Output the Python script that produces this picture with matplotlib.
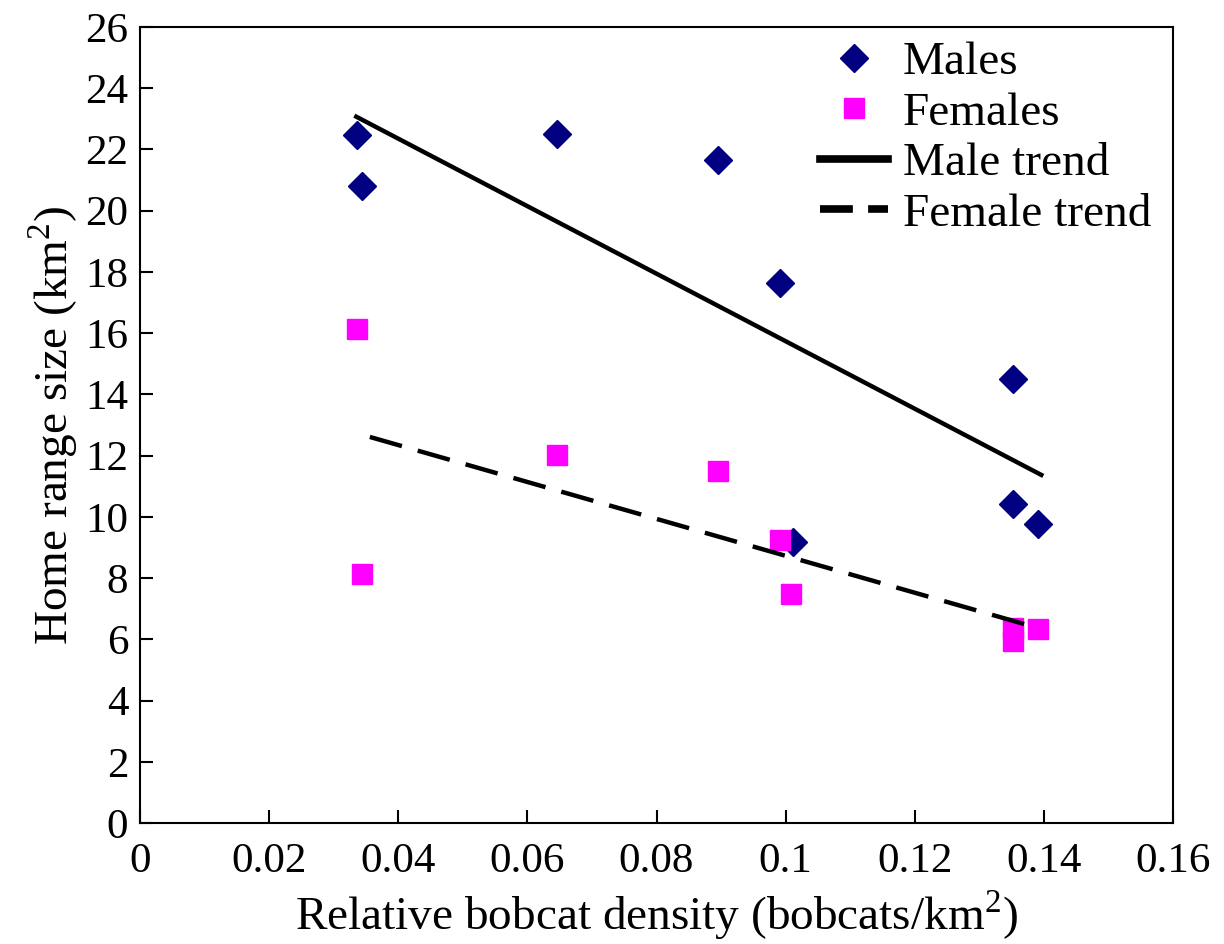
import numpy as np
import matplotlib.pyplot as plt

# Bobcat home range vs relative density
male_x = [0.0336, 0.0344, 0.0646, 0.0895, 0.0991, 0.1011, 0.1352, 0.1352, 0.1391]
male_y = [22.48, 20.82, 22.52, 21.67, 17.65, 9.18, 14.50, 10.42, 9.77]

female_x = [0.0336, 0.0344, 0.0646, 0.0895, 0.0991, 0.1008, 0.1352, 0.1352, 0.1391]
female_y = [16.14, 8.14, 12.03, 11.50, 9.25, 7.48, 6.37, 5.95, 6.34]

# trend line end points
male_trend_x = [0.0335, 0.1396]
male_trend_y = [23.07, 11.37]
female_trend_x = [0.0356, 0.1391]
female_trend_y = [12.61, 6.37]

xticks = [0, 0.02, 0.04, 0.06, 0.08, 0.1, 0.12, 0.14, 0.16]
xticklabels = ['0', '0.02', '0.04', '0.06', '0.08', '0.1', '0.12', '0.14', '0.16']
yticks = list(range(0, 27, 2))

plt.rcParams['font.family'] = ['Liberation Serif', 'DejaVu Serif']
plt.rcParams['mathtext.fontset'] = 'custom'
plt.rcParams['mathtext.rm'] = 'Liberation Serif'

fig = plt.figure(figsize=(12.24, 9.44), dpi=100)
ax = fig.add_axes([140/1224, 121/944, 1033/1224, 796/944])

ax.plot(male_x, male_y, 'D', color='#000080', markersize=14, linestyle='none', label='Males')
ax.plot(female_x, female_y, 's', color='#ff00ff', markersize=14, linestyle='none', label='Females')
ax.plot(male_trend_x, male_trend_y, color='black', linewidth=3.2, label='Male trend')
ax.plot(female_trend_x, female_trend_y, color='black', linewidth=3.2, dashes=(7.5, 3.7), label='Female trend')

ax.set_xlim(0, 0.16)
ax.set_ylim(0, 26)
ax.set_xticks(xticks)
ax.set_xticklabels(xticklabels)
ax.set_yticks(yticks)
ax.tick_params(direction='in', length=9.5, width=1.5, labelsize=31)
ax.tick_params(axis='x', pad=14)
ax.tick_params(axis='y', pad=8.5)
for s in ax.spines.values():
    s.set_linewidth(1.5)

ax.set_xlabel(r'Relative bobcat density (bobcats/km$^{\mathrm{2}}$)', fontsize=34, labelpad=5)
ax.set_ylabel(r'Home range size (km$^{\mathrm{2}}$)', fontsize=34, labelpad=4)

leg = ax.legend(loc='upper left', frameon=False, fontsize=34, handlelength=1.45,
                handletextpad=0.3, labelspacing=0.16, borderpad=0, borderaxespad=0,
                bbox_to_anchor=(820/1224, 1 - 41/944), bbox_transform=fig.transFigure)
# thicker handles in the legend like the original
leg_lines = leg.get_lines()
leg_lines[2].set_linewidth(5.5)
leg_lines[3].set_linewidth(5.5)
leg_lines[3].set_dashes((4.3, 2.0))

fig.savefig('out.png', dpi=100)
